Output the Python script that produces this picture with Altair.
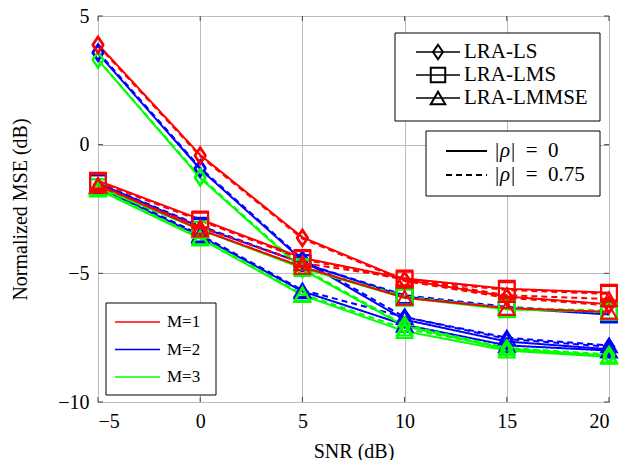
import altair as alt
import pandas as pd

snr = [-5, 0, 5, 10, 15, 20]
x_ticks = [-5, 0, 5, 10, 15, 20]
y_ticks = [-10, -5, 0, 5]

# M=1 (red)
m1_ls_r0 = [3.9, -0.4, -3.6, -5.25, -5.9, -6.2]
m1_ls_r75 = [3.85, -0.45, -3.65, -5.3, -5.95, -6.25]
m1_lms_r0 = [-1.4, -2.9, -4.4, -5.2, -5.6, -5.75]
m1_lms_r75 = [-1.45, -2.95, -4.45, -5.25, -5.65, -5.8]
m1_lmmse_r0 = [-1.55, -3.3, -4.75, -5.95, -6.35, -6.5]
m1_lmmse_r75 = [-1.6, -3.2, -4.6, -5.2, -5.85, -6.0]
# M=2 (blue)
m2_ls_r0 = [3.55, -0.95, -4.5, -6.8, -7.65, -7.95]
m2_ls_r75 = [3.6, -0.9, -4.45, -6.7, -7.55, -7.85]
m2_lms_r0 = [-1.5, -3.2, -4.6, -5.9, -6.35, -6.6]
m2_lms_r75 = [-1.5, -3.15, -4.6, -5.85, -6.3, -6.55]
m2_lmmse_r0 = [-1.65, -3.55, -5.7, -7.0, -7.8, -8.0]
m2_lmmse_r75 = [-1.6, -3.5, -5.65, -6.7, -7.5, -7.8]
# M=3 (green)
m3_ls_r0 = [3.3, -1.3, -4.85, -7.05, -7.95, -8.2]
m3_ls_r75 = [3.3, -1.25, -4.8, -7.0, -7.9, -8.15]
m3_lms_r0 = [-1.65, -3.3, -4.8, -5.95, -6.4, -6.5]
m3_lms_r75 = [-1.65, -3.3, -4.75, -5.9, -6.35, -6.45]
m3_lmmse_r0 = [-1.75, -3.65, -5.85, -7.25, -8.0, -8.25]
m3_lmmse_r75 = [-1.7, -3.6, -5.8, -7.15, -7.9, -8.2]

series = [
    ("M=2", "LS", "0", m2_ls_r0), ("M=2", "LS", "0.75", m2_ls_r75),
    ("M=2", "LMS", "0", m2_lms_r0), ("M=2", "LMS", "0.75", m2_lms_r75),
    ("M=2", "LMMSE", "0", m2_lmmse_r0), ("M=2", "LMMSE", "0.75", m2_lmmse_r75),
    ("M=3", "LS", "0", m3_ls_r0), ("M=3", "LS", "0.75", m3_ls_r75),
    ("M=3", "LMS", "0", m3_lms_r0), ("M=3", "LMS", "0.75", m3_lms_r75),
    ("M=3", "LMMSE", "0", m3_lmmse_r0), ("M=3", "LMMSE", "0.75", m3_lmmse_r75),
    ("M=1", "LS", "0", m1_ls_r0), ("M=1", "LS", "0.75", m1_ls_r75),
    ("M=1", "LMS", "0", m1_lms_r0), ("M=1", "LMS", "0.75", m1_lms_r75),
    ("M=1", "LMMSE", "0", m1_lmmse_r0), ("M=1", "LMMSE", "0.75", m1_lmmse_r75),
]

rows = []
for order, (m, meth, rho, vals) in enumerate(series):
    for s, v in zip(snr, vals):
        rows.append({"snr": s, "mse": v, "M": m, "method": meth, "rho": rho,
                     "key": f"{m}-{meth}-{rho}", "ord": order})
df = pd.DataFrame(rows)

W, H = 511, 386
FONT = "Liberation Serif"
DIAMOND = "M0,-1L0.68,0L0,1L-0.68,0Z"

xs = alt.Scale(domain=[-5, 20], nice=False, zero=False)
ys = alt.Scale(domain=[-10, 5], nice=False, zero=False)
cscale = alt.Scale(domain=["M=1", "M=2", "M=3"], range=["#ff0000", "#0000ff", "#00ff00"])
dscale = alt.Scale(domain=["0", "0.75"], range=[[1, 0], [6, 4]])
sscale = alt.Scale(domain=["LS", "LMS", "LMMSE"], range=[DIAMOND, "square", "triangle-up"])

base = alt.Chart(df)

lines = base.mark_line(strokeWidth=2).encode(
    x=alt.X("snr:Q", scale=xs,
            axis=alt.Axis(values=x_ticks, title="SNR (dB)", grid=True, ticks=False,
                          domain=False, labelPadding=9, titlePadding=10)),
    y=alt.Y("mse:Q", scale=ys,
            axis=alt.Axis(values=y_ticks, title="Normalized MSE (dB)", grid=True,
                          ticks=False, domain=False, labelPadding=9, titlePadding=27)),
    color=alt.Color("M:N", scale=cscale, legend=None),
    strokeDash=alt.StrokeDash("rho:N", scale=dscale, legend=None),
    detail="key:N",
    order="ord:Q",
)

points = base.mark_point(filled=False, strokeWidth=2, size=250, opacity=1).encode(
    x=alt.X("snr:Q", scale=xs),
    y=alt.Y("mse:Q", scale=ys),
    color=alt.Color("M:N", scale=cscale, legend=None),
    shape=alt.Shape("method:N", scale=sscale, legend=None),
)

# inner tick marks
tdx = pd.DataFrame({"v": x_ticks})
tdy = pd.DataFrame({"v": y_ticks})
tick_color = "#444444"
tb = alt.Chart(tdx).mark_rule(color=tick_color, strokeWidth=1).encode(
    x=alt.X("v:Q", scale=xs), y=alt.value(H), y2=alt.value(H - 5))
tt = alt.Chart(tdx).mark_rule(color=tick_color, strokeWidth=1).encode(
    x=alt.X("v:Q", scale=xs), y=alt.value(0), y2=alt.value(5))
tl = alt.Chart(tdy).mark_rule(color=tick_color, strokeWidth=1).encode(
    y=alt.Y("v:Q", scale=ys), x=alt.value(0), x2=alt.value(5))
tr = alt.Chart(tdy).mark_rule(color=tick_color, strokeWidth=1).encode(
    y=alt.Y("v:Q", scale=ys), x=alt.value(W - 5), x2=alt.value(W))

one = alt.Data(values=[{"a": 1}])


def box(x1, y1, x2, y2):
    return alt.Chart(one).mark_rect(fill="white", stroke="black", strokeWidth=1).encode(
        x=alt.value(x1), x2=alt.value(x2), y=alt.value(y1), y2=alt.value(y2))


def seg(x1, x2, y, color="black", dash=None, width=2):
    kw = {"color": color, "strokeWidth": width}
    if dash:
        kw["strokeDash"] = dash
    return alt.Chart(one).mark_rule(**kw).encode(
        x=alt.value(x1), x2=alt.value(x2), y=alt.value(y))


def txt(x, y, s, size, style="normal"):
    return alt.Chart(one).mark_text(align="left", baseline="middle", font=FONT,
                                    fontSize=size, color="black", fontStyle=style).encode(
        x=alt.value(x), y=alt.value(y), text=alt.value(s))


def mark(x, y, shape):
    return alt.Chart(one).mark_point(filled=False, strokeWidth=2, size=210, color="black",
                                     opacity=1, shape=shape).encode(
        x=alt.value(x), y=alt.value(y))


ox, oy = 98, 16  # page origin of plot area
leg = []
# method legend
leg.append(box(395 - ox, 33 - oy, 600 - ox, 121 - oy))
method_labels = ["LRA-LS", "LRA-LMS", "LRA-LMMSE"]
method_shapes = [DIAMOND, "square", "triangle-up"]
for i, (lab, shp) in enumerate(zip(method_labels, method_shapes)):
    yy = 52 + 23 * i - oy
    leg.append(seg(416 - ox, 460 - ox, yy, width=1.6))
    leg.append(mark(438 - ox, yy, shp))
    leg.append(txt(464 - ox, yy, lab, 21))
# rho legend
leg.append(box(426 - ox, 131 - oy, 600 - ox, 196 - oy))
rho_values = ["0", "0.75"]
rho_dash = [None, [6, 4]]
for i, (val, d) in enumerate(zip(rho_values, rho_dash)):
    yy = 151 + 24 * i - oy
    leg.append(seg(446 - ox, 487 - ox, yy, dash=d, width=2))
    leg.append(txt(495 - ox, yy, "|", 21))
    leg.append(txt(500 - ox, yy, "ρ", 21, "italic"))
    leg.append(txt(511 - ox, yy, "|\u2002=\u2002" + val, 21))
# M legend
leg.append(box(106 - ox, 303 - oy, 216 - ox, 395 - oy))
m_labels = ["M=1", "M=2", "M=3"]
m_colors = ["#ff0000", "#0000ff", "#00ff00"]
for i, (lab, c) in enumerate(zip(m_labels, m_colors)):
    yy = 322 + 27.5 * i - oy
    leg.append(seg(115 - ox, 160 - ox, yy, color=c, width=1.6))
    leg.append(txt(167 - ox, yy, lab, 17))

chart = alt.layer(lines, points, tb, tt, tl, tr, *leg).properties(
    width=W, height=H,
    autosize=alt.AutoSizeParams(type="none"),
    padding={"left": 90, "top": 8, "right": 10, "bottom": 58},
).configure_view(
    stroke="black", strokeWidth=1
).configure_axis(
    labelFont=FONT, labelFontSize=20, labelColor="black",
    titleFont=FONT, titleFontSize=20, titleFontWeight="normal", titleColor="black",
    gridColor="#bdbdbd", gridWidth=1,
)

chart.save("out.html", embed_options={"renderer": "svg", "actions": False})
